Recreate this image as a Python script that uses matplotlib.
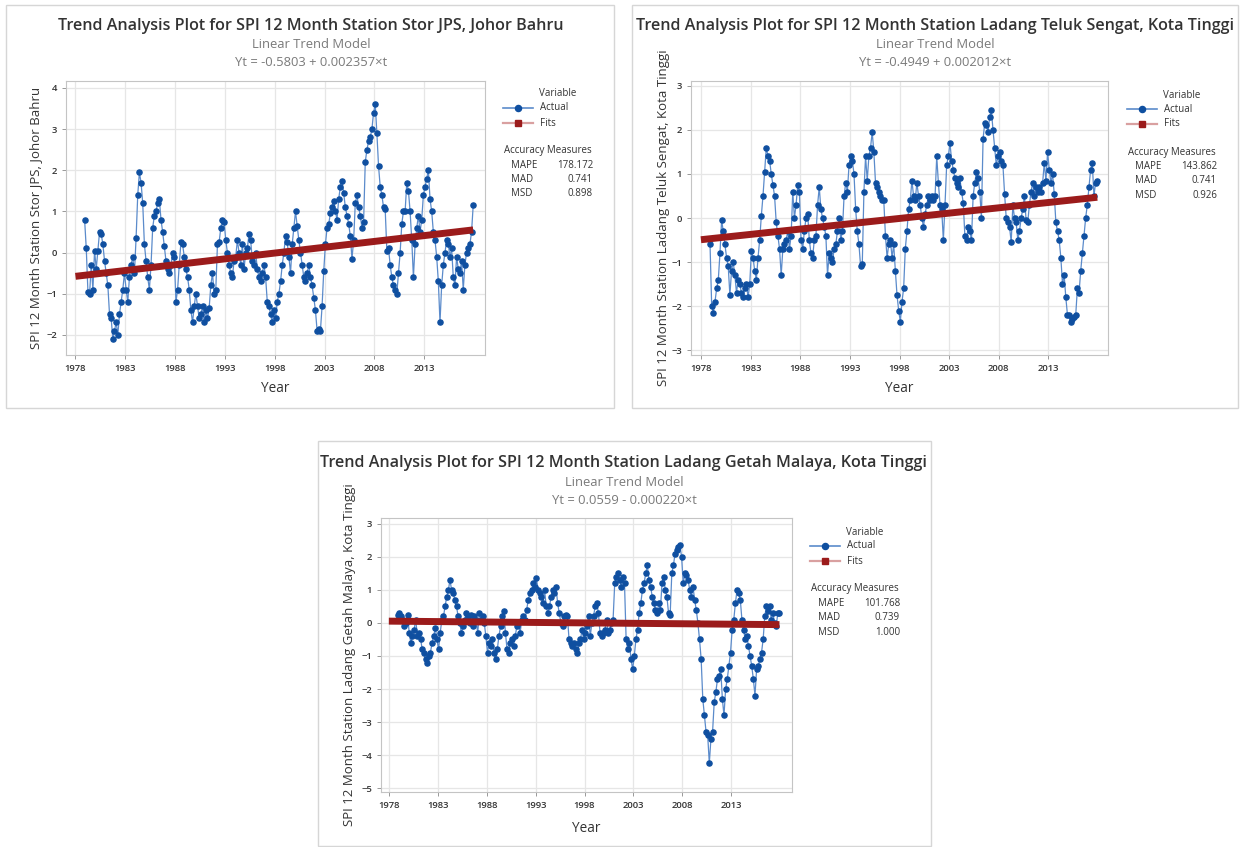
import numpy as np
import matplotlib
matplotlib.use('Agg')
import matplotlib.pyplot as plt
from matplotlib.lines import Line2D
from matplotlib.patches import Rectangle

plt.rcParams['font.family'] = ['Open Sans', 'Noto Sans', 'DejaVu Sans']

# SPI-12 values, every second month from Dec 1978 to Dec 2017
spi_stor_jps = [
    0.8,
    0.1, -0.95, -1.0, -0.3, -0.9, 0.05,
    -0.4, 0.05, 0.5, 0.45, 0.2, -0.2,
    -0.5, -0.8, -1.5, -1.6, -2.1, -1.9,
    -1.7, -2.0, -1.5, -1.2, -0.9, -0.5,
    -0.9, -1.2, -0.6, -0.3, -0.1, -0.5,
    0.35, 1.4, 1.95, 1.7, 1.2, 0.2,
    -0.2, -0.6, -0.9, -0.3, 0.6, 0.9,
    1.0, 1.2, 1.3, 0.8, 0.5, 0.15,
    -0.2, -0.4, -0.5, -0.3, 0.0, -0.1,
    -1.2, -0.9, -0.3, 0.25, 0.2, -0.1,
    -0.4, -0.6, -0.9, -1.4, -1.7, -1.3,
    -1.0, -1.3, -1.6, -1.5, -1.3, -1.7,
    -1.4, -1.6, -1.35, -0.8, -0.5, -1.0,
    -0.9, 0.2, 0.25, 0.6, 0.8, 0.75,
    0.3, 0.0, -0.3, -0.5, -0.6, -0.2,
    -0.1, 0.3, 0.0, -0.3, 0.2, -0.4,
    0.0, 0.1, 0.45, 0.3, -0.2, -0.3,
    0.0, -0.4, -0.6, -0.7, -0.5, -0.3,
    -0.6, -1.2, -1.3, -1.5, -1.7, -1.4,
    -1.6, -1.2, -1.0, -0.7, -0.3, 0.0,
    0.4, 0.25, -0.1, -0.5, 0.2, 0.6,
    1.0, 0.65, 0.3, 0.0, -0.3, -0.6,
    -0.7, -0.5, -0.3, -0.6, -0.8, -1.1,
    -1.4, -1.9, -1.85, -1.9, -1.3, -0.45,
    0.2, 0.6, 0.7, 0.95, 1.1, 1.25,
    1.0, 0.8, 1.3, 1.6, 1.75, 1.45,
    1.1, 0.9, 0.7, 0.4, -0.15, 0.3,
    1.2, 1.4, 1.1, 0.9, 0.6, 0.75,
    2.2, 2.5, 2.7, 2.8, 3.0, 3.4,
    3.6, 2.9, 2.1, 1.6, 1.4, 1.1,
    1.05, 0.05, 0.1, -0.3, -0.6, -0.8,
    -0.9, -1.0, -0.5, 0.0, 0.7, 1.0,
    1.0, 1.7, 1.5, 1.0, 0.3, -0.6,
    0.2, 0.6, 0.9, 0.5, 0.8, 1.4,
    1.6, 1.8, 2.0, 1.3, 1.0, 0.5,
    0.3, -0.1, -0.7, -1.7, -0.8, -0.3,
    0.0, 0.3, 0.2, -0.1, 0.1, -0.6,
    -0.8, -0.1, -0.4, -0.5, -0.2, -0.9,
    -0.3, 0.0, 0.1, 0.2, 0.5, 1.15,
]

spi_teluk_sengat = [
    -0.6,
    -2.0, -2.15, -1.9, -1.6, -1.4, -0.8,
    -0.05, -0.3, -0.6, -0.9, -1.1, -1.75,
    -1.2, -1.0, -1.3, -1.7, -1.4, -1.5,
    -1.7, -1.8, -1.6, -1.5, -1.8, -1.5,
    -0.75, -0.9, -1.2, -1.4, -0.9, -0.5,
    0.05, 0.5, 1.05, 1.6, 1.4, 1.3,
    1.0, 0.75, 0.5, -0.1, -0.4, -0.7,
    -1.3, -0.7, -0.6, -0.5, -0.3, -0.7,
    -0.4, 0.6, 0.0, 0.3, 0.75, 0.6,
    -0.5, -0.7, -0.3, 0.0, 0.1, -0.5,
    -0.8, -0.9, -0.5, -0.4, 0.3, 0.7,
    0.2, 0.0, -0.2, -0.4, -1.3, -0.8,
    -0.9, -1.0, -0.7, -0.6, -0.3, 0.0,
    -0.5, -0.3, 0.5, 0.8, 0.6, 1.2,
    1.4, 1.3, 1.0, 0.2, -0.3, -0.6,
    -1.1, -1.05, 0.6, 1.4, 0.85, 1.4,
    1.6, 1.95, 1.5, 0.8, 0.7, 0.6,
    0.5, 0.4, 0.4, -0.4, -0.9, -0.6,
    -0.5, -0.9, -0.6, -1.2, -1.75, -2.1,
    -2.35, -1.9, -1.6, -0.7, -0.3, 0.2,
    0.4, 0.85, 0.5, 0.4, 0.8, 0.5,
    0.3, 0.0, -0.2, 0.1, 0.3, 0.5,
    0.4, 0.5, 0.4, 0.5, 1.4, 0.8,
    0.3, 0.2, -0.5, 0.3, 1.2, 1.4,
    1.7, 1.3, 1.1, 0.9, 0.8, 0.7,
    0.9, 0.6, 0.35, -0.4, -0.5, -0.2,
    -0.3, -0.5, 0.5, 0.8, 1.05, 0.9,
    0.6, 0.0, 1.8, 2.15, 2.1, 1.95,
    2.3, 2.45, 2.0, 1.6, 1.2, 1.4,
    1.5, 1.3, 1.2, 0.55, 0.0, -0.1,
    -0.2, -0.55, 0.3, 0.0, -0.1, -0.5,
    -0.3, 0.0, 0.2, 0.5, -0.05, -0.1,
    0.3, 0.6, 0.8, 0.5, 0.7, 0.6,
    0.7, 0.6, 0.8, 1.25, 0.85, 1.5,
    1.1, 0.8, 1.0, 0.55, -0.1, -0.3,
    -0.5, -0.9, -1.5, -1.3, -1.8, -2.2,
    -2.2, -2.35, -2.3, -2.25, -2.2, -1.6,
    -1.7, -1.2, -0.8, -0.4, 0.0, 0.3,
    0.7, 1.1, 1.25, 0.5, 0.8, 0.85,
]

spi_getah_malaya = [
    0.25,
    0.3, 0.2, 0.1, -0.1, 0.0, 0.25,
    -0.3, -0.6, -0.4, -0.2, 0.1, -0.4,
    -0.3, -0.5, -0.8, -0.9, -1.1, -1.2,
    -1.0, -0.9, -0.6, -0.4, -0.15, -0.5,
    -0.8, -0.3, 0.1, 0.2, 0.5, 0.8,
    1.0, 1.3, 1.0, 0.9, 0.7, 0.5,
    0.2, 0.0, -0.3, -0.1, 0.1, 0.3,
    0.2, 0.0, 0.25, -0.1, 0.2, 0.1,
    -0.3, 0.3, 0.1, 0.2, 0.0, -0.4,
    -0.9, -0.6, -0.7, -0.5, -0.9, -1.1,
    -0.8, -0.4, -0.1, 0.2, 0.35, -0.3,
    -0.8, -0.9, -0.6, -0.5, -0.7, -0.4,
    -0.1, 0.0, -0.3, 0.1, 0.2, 0.1,
    0.4, 0.7, 0.9, 1.0, 1.2, 1.1,
    1.35, 1.0, 0.9, 0.8, 0.6, 1.0,
    0.5, 0.3, 0.5, 0.8, 1.0, 0.9,
    1.1, 0.6, 0.3, 0.0, -0.1, 0.2,
    0.25, 0.2, -0.5, -0.6, -0.7, -0.6,
    -0.8, -0.9, -0.6, -0.5, -0.2, -0.5,
    -0.3, -0.1, 0.2, -0.4, 0.0, 0.2,
    0.5, 0.6, 0.3, -0.3, -0.4, -0.3,
    -0.2, 0.1, -0.3, -0.2, 0.0, 0.1,
    1.2, 1.4, 1.5, 1.3, 1.1, 1.4,
    1.2, -0.5, -0.8, -0.6, -1.1, -1.4,
    -1.0, -0.5, -0.2, 0.3, 0.6, 1.0,
    1.2, 1.5, 1.75, 1.3, 1.1, 0.8,
    0.6, 0.4, 0.3, 0.6, 0.4, 1.2,
    1.4, 1.0, 0.8, 0.3, 0.25, 1.5,
    1.75, 2.1, 2.2, 2.3, 2.35, 2.0,
    1.2, 1.5, 1.45, 1.3, 1.0, 0.8,
    1.1, 0.7, 0.4, 0.0, -0.5, -1.1,
    -2.3, -2.8, -3.3, -3.4, -4.25, -3.5,
    -3.3, -2.4, -2.1, -1.7, -1.6, -1.4,
    -2.3, -2.8, -2.0, -1.7, -1.3, -0.9,
    -0.2, 0.1, 0.6, 1.0, 0.9, 0.7,
    0.1, -0.2, -0.5, -0.4, -0.7, -1.0,
    -1.3, -1.7, -2.2, -1.4, -1.3, -1.1,
    -0.9, -0.5, 0.2, 0.5, 0.35, 0.5,
    0.1, 0.3, 0.0, -0.1, 0.3, 0.3,
]

titles = ["Trend Analysis Plot for SPI 12 Month Station Stor JPS, Johor Bahru",
          "Trend Analysis Plot for SPI 12 Month Station Ladang Teluk Sengat, Kota Tinggi",
          "Trend Analysis Plot for SPI 12 Month Station Ladang Getah Malaya, Kota Tinggi"]
ylabels = ["SPI 12 Month Station Stor JPS, Johor Bahru",
           "SPI 12 Month Station Ladang Teluk Sengat, Kota Tinggi",
           "SPI 12 Month Station Ladang Getah Malaya, Kota Tinggi"]
equations = ["Yt = -0.5803 + 0.002357\u00d7t",
             "Yt = -0.4949 + 0.002012\u00d7t",
             "Yt = 0.0559 - 0.000220\u00d7t"]
intercepts = [-0.5803, -0.4949, 0.0559]
slopes = [0.002357, 0.002012, -0.000220]
mape = ["178.172", "143.862", "101.768"]
mad = ["0.741", "0.741", "0.739"]
msd = ["0.898", "0.926", "1.000"]
year_ticks = [1978, 1983, 1988, 1993, 1998, 2003, 2008, 2013]

# Minitab time index t (months since Jan 1978)
t_obs = np.arange(12, 481, 2)
x_obs = 1978 + (t_obs - 1) / 12.0
t_fit = np.arange(1, 481)
x_fit = 1978 + (t_fit - 1) / 12.0

W, H = 1242, 847
fig = plt.figure(figsize=(W / 100, H / 100), dpi=100)
fig.patch.set_facecolor('white')

BLUE = '#0F4FA0'
LBLUE = '#5B8BCB'
RED = '#9B1B1B'
TXT = '#333333'
GRAY = '#7a7a7a'


def fx(p):
    return p / W


def fy(p):
    return 1 - p / H


def panel(i, box, frame, xlim, ylim, yticks, values, tcx, ty, ylab_x, xlab_y, leg_x, leg_y):
    fig.add_artist(Rectangle((fx(box[0]), fy(box[3])), (box[2] - box[0]) / W, (box[3] - box[1]) / H,
                             transform=fig.transFigure, fill=False, ec='#d6d6d6', lw=1))
    x0, y0, x1, y1 = frame
    ax = fig.add_axes([fx(x0), fy(y1), (x1 - x0) / W, (y1 - y0) / H])
    ax.plot(x_obs, values, '-', color=LBLUE, lw=0.9, zorder=2)
    ax.plot(x_obs, values, 'o', color=BLUE, ms=3.7, mec=BLUE, zorder=3)
    fits = intercepts[i] + slopes[i] * t_fit
    ax.plot(x_fit, fits, '-', color=RED, lw=5, solid_capstyle='butt', zorder=4)
    ax.set_xlim(*xlim)
    ax.set_ylim(*ylim)
    ax.set_xticks(year_ticks)
    ax.set_yticks(yticks)
    ax.grid(True, color='#e6e6e6', lw=0.9)
    ax.set_axisbelow(True)
    for s in ax.spines.values():
        s.set_color('#c4c4c4')
    ax.tick_params(colors='#888888', labelcolor=TXT, labelsize=6.8, length=3, width=0.6)
    for lab in ax.get_xticklabels() + ax.get_yticklabels():
        lab.set_fontweight('semibold')

    cx = (x0 + x1) / 2
    fig.text(fx(tcx), fy(ty), titles[i], ha='center', va='center', fontsize=11.6,
             fontweight='semibold', color=TXT)
    fig.text(fx(tcx), fy(ty + 19), "Linear Trend Model", ha='center', va='center', fontsize=9.4, color=GRAY)
    fig.text(fx(tcx), fy(ty + 37), equations[i], ha='center', va='center', fontsize=9.4, color=GRAY)
    fig.text(fx(ylab_x), fy((y0 + y1) / 2), ylabels[i], rotation=90, ha='center', va='center',
             fontsize=9.5, color=TXT)
    fig.text(fx(cx), fy(xlab_y), "Year", ha='center', va='center', fontsize=9.8, color=TXT)

    # legend
    fs = 7.0
    fig.text(fx(leg_x + 55), fy(leg_y), "Variable", ha='center', va='center', fontsize=fs, color=TXT)
    fig.add_artist(Line2D([fx(leg_x), fx(leg_x + 30)], [fy(leg_y + 14)] * 2, transform=fig.transFigure,
                          color=LBLUE, lw=1.2))
    fig.add_artist(Line2D([fx(leg_x + 15)], [fy(leg_y + 14)], transform=fig.transFigure,
                          marker='o', ms=4.4, color=BLUE))
    fig.text(fx(leg_x + 37), fy(leg_y + 14), "Actual", ha='left', va='center', fontsize=fs, color=TXT)
    fig.add_artist(Line2D([fx(leg_x), fx(leg_x + 30)], [fy(leg_y + 29)] * 2, transform=fig.transFigure,
                          color='#d9a0a0', lw=1.6))
    fig.add_artist(Line2D([fx(leg_x + 15)], [fy(leg_y + 29)], transform=fig.transFigure,
                          marker='s', ms=4.4, color=RED))
    fig.text(fx(leg_x + 37), fy(leg_y + 29), "Fits", ha='left', va='center', fontsize=fs, color=TXT)
    fig.text(fx(leg_x + 1), fy(leg_y + 57), "Accuracy Measures", ha='left', va='center', fontsize=fs, color=TXT)
    for k, (nm, val) in enumerate([("MAPE", mape[i]), ("MAD", mad[i]), ("MSD", msd[i])]):
        yy = leg_y + 71 + 14.5 * k
        fig.text(fx(leg_x + 8), fy(yy), nm, ha='left', va='center', fontsize=fs, color=TXT)
        fig.text(fx(leg_x + 90), fy(yy), val, ha='right', va='center', fontsize=fs, color=TXT)
    return ax


panel(0, (6, 5, 614, 408), (66, 81, 485, 355), (1977.05, 2019.1), (-2.49, 4.17), range(-2, 5),
      spi_stor_jps, 311, 26, 36, 388, 503, 94)
panel(1, (632, 5, 1238, 408), (691, 81, 1108, 355), (1977.0, 2019.0), (-3.11, 3.11), range(-3, 4),
      spi_teluk_sengat, 935, 26, 663, 388, 1127, 95)
panel(2, (318, 441, 931, 846), (381, 518, 792, 792), (1977.2, 2019.2), (-5.12, 3.18), range(-5, 4),
      spi_getah_malaya, 624, 463, 350, 828, 810, 532)

fig.savefig('out.png', dpi=100)
